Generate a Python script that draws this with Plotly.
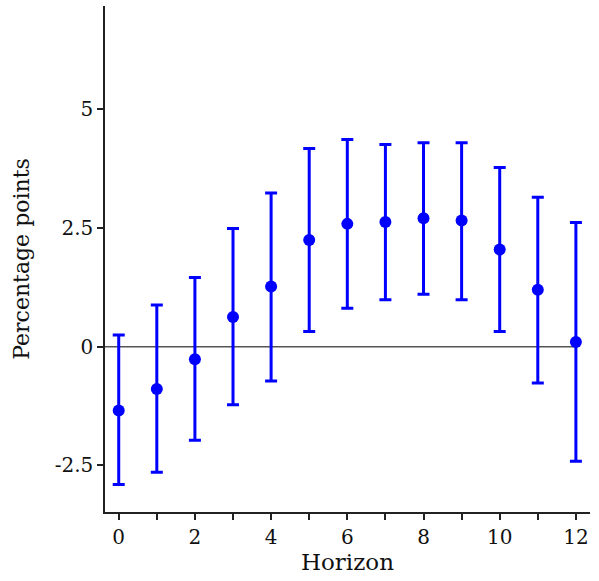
import plotly.graph_objects as go

horizon = [0, 1, 2, 3, 4, 5, 6, 7, 8, 9, 10, 11, 12]
estimate = [-1.34, -0.89, -0.26, 0.63, 1.27, 2.25, 2.59, 2.63, 2.71, 2.66, 2.05, 1.20, 0.10]
upper = [0.25, 0.88, 1.46, 2.49, 3.24, 4.18, 4.37, 4.26, 4.30, 4.30, 3.78, 3.15, 2.62]
lower = [-2.90, -2.64, -1.97, -1.22, -0.72, 0.32, 0.81, 0.99, 1.11, 0.99, 0.32, -0.76, -2.41]

y_ticks = [-2.5, 0, 2.5, 5]
y_ticklabels = ["-2.5", "0", "2.5", "5"]
x_ticks = [0, 2, 4, 6, 8, 10, 12]

err_plus = [u - e for u, e in zip(upper, estimate)]
err_minus = [e - l for e, l in zip(estimate, lower)]

font_family = "DejaVu Serif"
blue = "#0000FF"
x_range = [-0.36, 12.37]
y_range = [-3.48, 7.18]

fig = go.Figure()
fig.add_trace(go.Scatter(
    x=[x_range[0], horizon[-1]], y=[0, 0], mode="lines",
    line=dict(color="#555555", width=1.5), hoverinfo="skip", showlegend=False,
))
fig.add_trace(go.Scatter(
    x=horizon, y=estimate, mode="markers",
    marker=dict(color=blue, size=12),
    error_y=dict(type="data", symmetric=False, array=err_plus, arrayminus=err_minus,
                 color=blue, thickness=3, width=6),
    showlegend=False,
))

fig.update_layout(
    width=599, height=581,
    margin=dict(l=105, r=9, t=6, b=69),
    paper_bgcolor="white", plot_bgcolor="white",
    font=dict(family=font_family, size=20, color="#111111"),
    xaxis=dict(
        range=x_range, showgrid=False, zeroline=False, automargin=False,
        showline=True, linecolor="#222222", linewidth=1.5,
        tickmode="array", tickvals=x_ticks, ticks="outside", ticklen=6,
        tickcolor="#222222", tickwidth=1.5, tickfont=dict(size=20),
        minor=dict(tickvals=horizon, ticks="outside", ticklen=6, tickcolor="#222222", tickwidth=1.5),
        title=dict(text="Horizon", standoff=4, font=dict(size=23)),
    ),
    yaxis=dict(
        range=y_range, showgrid=False, zeroline=False, automargin=False,
        showline=True, linecolor="#222222", linewidth=1.5,
        tickmode="array", tickvals=y_ticks, ticktext=y_ticklabels,
        ticks="outside", ticklen=6, tickcolor="#222222", tickwidth=1.5, tickfont=dict(size=20),
        title=dict(text="Percentage points", standoff=19, font=dict(size=22)),
    ),
)

fig.write_html("out.html", config={"displayModeBar": False},
               post_script="document.body.style.margin='0';document.body.style.overflow='hidden';")
